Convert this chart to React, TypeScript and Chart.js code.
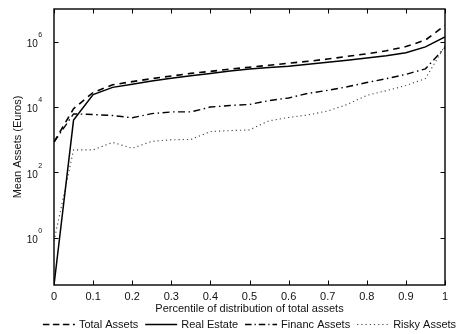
import React, { useEffect, useRef } from "react";
import { Chart, registerables } from "chart.js";

Chart.register(...registerables);

const percentiles = [0, 0.05, 0.1, 0.15, 0.2, 0.25, 0.3, 0.35, 0.4, 0.45, 0.5, 0.55, 0.6, 0.65, 0.7, 0.75, 0.8, 0.85, 0.9, 0.95, 1];
const totalAssets = [850, 8900, 28000, 48000, 60000, 74000, 89000, 107000, 123000, 145000, 166000, 190000, 219000, 251000, 295000, 355000, 427000, 525000, 708000, 1120000, 3160000];
const realEstate = [0.036, 4000, 24000, 40000, 50000, 63000, 76000, 91000, 107000, 126000, 145000, 162000, 178000, 204000, 234000, 269000, 316000, 372000, 457000, 692000, 1410000];
const financAssets = [850, 6200, 5900, 5500, 4700, 6300, 7100, 7100, 10000, 11200, 12000, 15800, 19000, 26300, 32400, 41700, 56200, 74100, 100000, 148000, 660000];
const riskyAssets = [0.8, 490, 490, 830, 550, 890, 1000, 1020, 1780, 1900, 2000, 3800, 4800, 5750, 7600, 12000, 22900, 31600, 45700, 74100, 760000];

const seriesLabels = ["Total Assets", "Real Estate", "Financ Assets", "Risky Assets"];
const xTickValues = [0, 0.1, 0.2, 0.3, 0.4, 0.5, 0.6, 0.7, 0.8, 0.9, 1];
const xTickLabels = ["0", "0.1", "0.2", "0.3", "0.4", "0.5", "0.6", "0.7", "0.8", "0.9", "1"];
const yTickValues = [1, 100, 10000, 1000000];
const yTickExponents = ["0", "2", "4", "6"];

const FONT = '"Liberation Sans", Arial, sans-serif';
const INK = "#111";

const styles = [
  { dash: [6.5, 5], width: 1.6, color: "#000", legendDash: [6.5, 3.5] },
  { dash: [], width: 1.5, color: "#000", legendDash: [] },
  { dash: [7, 3.5, 1.5, 3.5], width: 1.4, color: "#000", legendDash: [6.5, 3, 1.2, 3] },
  { dash: [1.2, 3], width: 1.1, color: "#444", legendDash: [1.2, 3] },
];

const framePlugin = {
  id: "frameAndLabels",
  afterDraw(chart: any) {
    const ctx = chart.ctx;
    const { left, right, top, bottom } = chart.chartArea;
    const xs = chart.scales.x;
    const ys = chart.scales.y;
    ctx.save();
    ctx.strokeStyle = "#000";
    ctx.lineWidth = 1.4;
    ctx.setLineDash([]);
    ctx.strokeRect(left, top, right - left, bottom - top);
    ctx.lineWidth = 1;
    const tl = 4.5;
    ctx.beginPath();
    xTickValues.forEach((v) => {
      const px = Math.round(xs.getPixelForValue(v)) + 0.5;
      ctx.moveTo(px, bottom);
      ctx.lineTo(px, bottom - tl);
      ctx.moveTo(px, top);
      ctx.lineTo(px, top + tl);
    });
    yTickValues.forEach((v) => {
      const py = Math.round(ys.getPixelForValue(v)) + 0.5;
      ctx.moveTo(left, py);
      ctx.lineTo(left + tl, py);
      ctx.moveTo(right, py);
      ctx.lineTo(right - tl, py);
    });
    ctx.stroke();

    // y tick labels 10^n
    ctx.fillStyle = INK;
    yTickValues.forEach((v, i) => {
      const py = ys.getPixelForValue(v);
      ctx.font = `10px ${FONT}`;
      ctx.textAlign = "right";
      ctx.textBaseline = "alphabetic";
      ctx.fillText("10", 37.8, py + 5.4);
      ctx.font = `7px ${FONT}`;
      ctx.textAlign = "left";
      ctx.fillText(yTickExponents[i], 38.3, py - 4.8);
    });

    // legend
    ctx.font = `11px ${FONT}`;
    ctx.textBaseline = "middle";
    ctx.textAlign = "left";
    const sample = 32;
    const gap = 4;
    const itemGap = 7;
    const widths = seriesLabels.map((t) => ctx.measureText(t).width);
    const total = widths.reduce((a, b) => a + b, 0) + seriesLabels.length * (sample + gap) + (seriesLabels.length - 1) * itemGap;
    let x = (left + right) / 2 - total / 2;
    const ly = 324;
    seriesLabels.forEach((t, i) => {
      const s = styles[i];
      ctx.strokeStyle = s.color;
      ctx.lineWidth = s.width;
      ctx.setLineDash(s.legendDash);
      ctx.beginPath();
      ctx.moveTo(x, ly + 0.5);
      ctx.lineTo(x + sample, ly + 0.5);
      ctx.stroke();
      ctx.setLineDash([]);
      ctx.fillStyle = INK;
      ctx.fillText(t, x + sample + gap, ly + 0.5);
      x += sample + gap + widths[i] + itemGap;
    });
    ctx.restore();
  },
};

export default function App() {
  const ref = useRef<HTMLCanvasElement | null>(null);
  useEffect(() => {
    document.body.style.margin = "0";
    if (!ref.current) return;
    const series = [totalAssets, realEstate, financAssets, riskyAssets];
    const datasets = series
      .map((arr, i) => ({
        label: seriesLabels[i],
        data: percentiles.map((p, j) => ({ x: p, y: arr[j] })),
        borderColor: styles[i].color,
        borderWidth: styles[i].width,
        borderDash: styles[i].dash,
        pointRadius: 0,
        tension: 0,
        fill: false,
        order: i,
      }));
    const chart = new Chart(ref.current, {
      type: "line",
      data: { datasets },
      options: {
        responsive: false,
        animation: false,
        layout: { padding: { left: 0, right: 16, top: 9, bottom: 18 } },
        plugins: { legend: { display: false }, tooltip: { enabled: false } },
        scales: {
          x: {
            type: "linear",
            min: 0,
            max: 1,
            grid: { display: false, drawTicks: false },
            border: { display: false },
            afterBuildTicks: (s: any) => {
              s.ticks = xTickValues.map((v) => ({ value: v }));
            },
            afterFit: (s: any) => {
              s.height = 31;
            },
            ticks: {
              padding: 5,
              color: INK,
              font: { size: 11, family: FONT },
              maxRotation: 0,
              autoSkip: false,
              callback: (v: any, i: number) => xTickLabels[i],
            },
            title: {
              display: true,
              text: "Percentile of distribution of total assets",
              color: INK,
              font: { size: 11, family: FONT },
              padding: { top: 0, bottom: 0 },
            },
          },
          y: {
            type: "logarithmic",
            min: 0.036,
            max: 1e7,
            grid: { display: false, drawTicks: false },
            border: { display: false },
            afterBuildTicks: (s: any) => {
              s.ticks = yTickValues.map((v) => ({ value: v }));
            },
            afterFit: (s: any) => {
              s.width = 54;
            },
            ticks: { display: false },
            title: {
              display: true,
              text: "Mean Assets (Euros)",
              color: INK,
              font: { size: 11, family: FONT },
              padding: { top: 11, bottom: 0 },
            },
          },
        },
      },
      plugins: [framePlugin],
    });
    return () => chart.destroy();
  }, []);
  return (
    <div style={{ position: "absolute", left: 0, top: 0, width: 461, height: 334 }}>
      <canvas ref={ref} width={461} height={334} />
    </div>
  );
}
